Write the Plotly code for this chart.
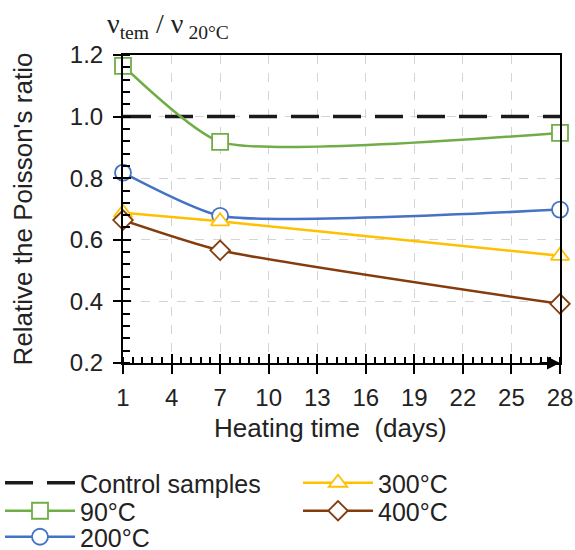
import plotly.graph_objects as go

# Heating time (days) and relative Poisson's ratio per heating temperature
days = [1, 7, 28]
control = [1.0, 1.0]
control_days = [1, 28]
t90 = [1.165, 0.918, 0.947]
t200 = [0.818, 0.678, 0.698]
t300 = [0.688, 0.660, 0.548]
t400 = [0.664, 0.566, 0.392]

x_ticks = [1, 4, 7, 10, 13, 16, 19, 22, 25, 28]
y_ticks = [0.2, 0.4, 0.6, 0.8, 1.0, 1.2]

FONT = "Liberation Sans, Arial, sans-serif"
TXT = "#222"

fig = go.Figure()

fig.add_trace(go.Scatter(
    x=control_days, y=control, mode="lines", name="Control samples",
    line=dict(color="#1a1a1a", width=3.5, dash="28px,14px"),
    legend="legend",
))

series = [
    ("90°C", t90, "#70AD47", "square", "legend2"),
    ("200°C", t200, "#4472C4", "circle", "legend3"),
    ("300°C", t300, "#FFC000", "triangle-up", "legend4"),
    ("400°C", t400, "#843C0C", "diamond", "legend5"),
]
for name, vals, color, sym, leg in series:
    fig.add_trace(go.Scatter(
        x=days, y=vals, mode="lines+markers", name=name,
        line=dict(color=color, width=2.5, shape="spline", smoothing=0.55),
        marker=dict(symbol=sym, size=16 if sym != "diamond" else 15,
                    color="white", line=dict(color=color, width=1.8)),
        cliponaxis=False, legend=leg,
    ))

# overlay axes that draw the inner half of the major ticks
fig.add_trace(go.Scatter(x=[None], y=[None], xaxis="x2", yaxis="y2",
                         showlegend=False, hoverinfo="skip"))

tick_font = dict(family=FONT, size=24, color=TXT)
title_font = dict(family=FONT, size=26, color=TXT)
legend_font = dict(family=FONT, size=25, color=TXT)


def legend_box(px_left, px_row):
    # one legend per entry, placed by pixel position in the 575x550 page
    return dict(x=(px_left - 123) / 437, y=-(px_row - 363) / 308,
                xanchor="left", yanchor="middle", font=legend_font,
                itemwidth=70, tracegroupgap=0, bgcolor="rgba(0,0,0,0)",
                borderwidth=0)


fig.update_layout(
    width=575, height=550,
    margin=dict(l=123, r=15, t=55, b=187, autoexpand=False),
    plot_bgcolor="white", paper_bgcolor="white",
    font=dict(family=FONT, size=24, color=TXT),
    xaxis=dict(
        range=[1, 28], tickvals=x_ticks, ticks="outside", ticklen=9,
        tickwidth=2, tickcolor="black", showline=True, linecolor="black",
        linewidth=2, mirror=True, showgrid=True, gridcolor="#d4d4d4",
        griddash="dash", gridwidth=1, zeroline=False, tickfont=tick_font,
        ticklabelstandoff=3, automargin=False,
        minor=dict(dtick=0.6, tick0=1, ticks="inside", ticklen=6,
                   tickwidth=1.5, tickcolor="black", showgrid=False),
    ),
    yaxis=dict(
        range=[0.2, 1.2], tickvals=y_ticks, tickformat=".1f", ticks="outside",
        ticklen=8, tickwidth=2, tickcolor="black", showline=True,
        linecolor="black", linewidth=2, mirror=True, showgrid=True,
        gridcolor="#d4d4d4", griddash="dash", gridwidth=1, zeroline=False,
        tickfont=tick_font, ticklabelstandoff=5, automargin=False,
        minor=dict(dtick=0.04, tick0=0.2, ticks="inside", ticklen=7,
                   tickwidth=1.5, tickcolor="black", showgrid=False),
        title=dict(text="Relative the Poisson's ratio", font=title_font,
                   standoff=30),
    ),
    xaxis2=dict(range=[1, 28], tickvals=x_ticks, ticks="inside", ticklen=9,
                tickwidth=2, tickcolor="black", showticklabels=False,
                showgrid=False, zeroline=False, overlaying="x", anchor="y",
                side="bottom", automargin=False),
    yaxis2=dict(range=[0.2, 1.2], tickvals=y_ticks, ticks="inside", ticklen=8,
                tickwidth=2, tickcolor="black", showticklabels=False,
                showgrid=False, zeroline=False, overlaying="y", anchor="x",
                side="left", automargin=False),
    legend=legend_box(0, 483),
    legend2=legend_box(0, 511),
    legend3=legend_box(0, 537),
    legend4=legend_box(298, 483),
    legend5=legend_box(298, 511),
    showlegend=True,
)

# time axis title
fig.add_annotation(x=(330 - 123) / 437, y=-(428 - 363) / 308, xref="paper",
                   yref="paper", xanchor="center", yanchor="middle",
                   showarrow=False, text="Heating time \u00a0(days)",
                   font=title_font)

# arrow head at the end of the time axis
fig.add_annotation(x=28, y=0.2, xref="x", yref="y", ax=-22, ay=0,
                   text="", showarrow=True, arrowhead=2, arrowsize=1.3,
                   arrowwidth=2, arrowcolor="black")

# ratio label above the value axis
fig.add_annotation(
    x=(168 - 123) / 437, y=1.0, xref="paper", yref="paper", xanchor="center",
    yanchor="bottom", showarrow=False, yshift=10,
    text="\u03bd<sub>tem</sub> / \u03bd<sub> 20\u00b0C</sub>",
    font=dict(family="Liberation Serif, Times New Roman, serif", size=28,
              color=TXT),
)

fig.write_html("out.html")
